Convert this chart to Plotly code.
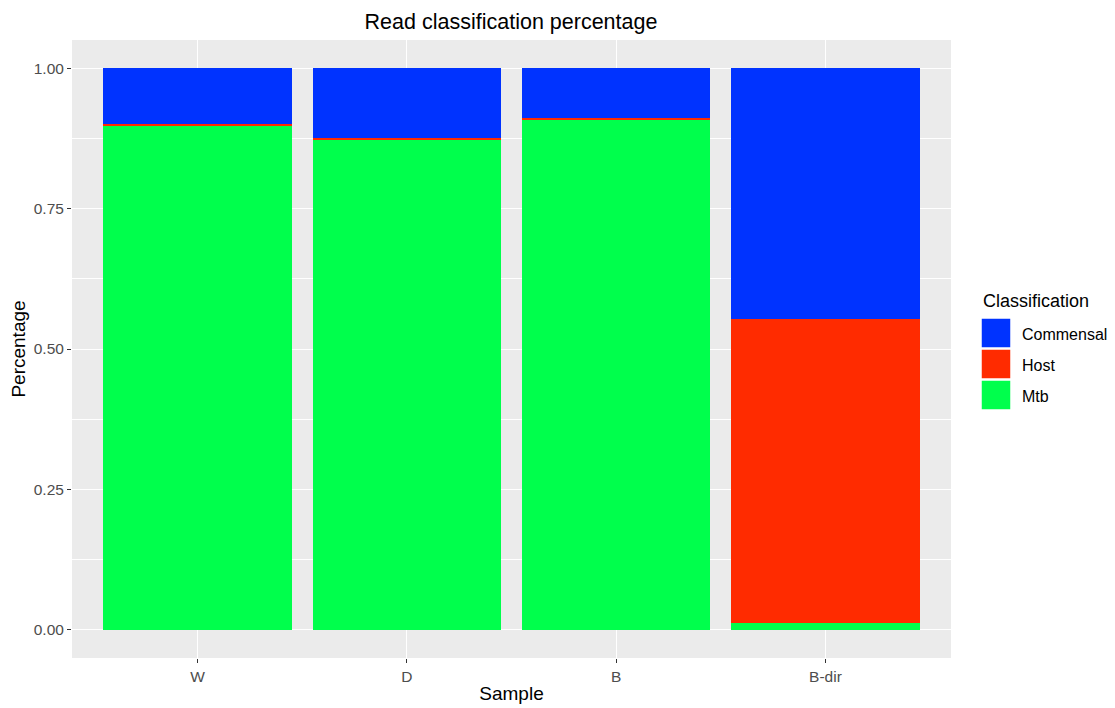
import plotly.graph_objects as go

samples = ["W", "D", "B", "B-dir"]
mtb = [0.897, 0.872, 0.909, 0.012]
host = [0.004, 0.003, 0.003, 0.541]
commensal = [0.099, 0.125, 0.088, 0.447]

series = [("Mtb", mtb), ("Host", host), ("Commensal", commensal)]
colors = {"Mtb": "#00FF4C", "Host": "#FF2B00", "Commensal": "#0033FF"}
legend_order = ["Commensal", "Host", "Mtb"]

W, H = 1115, 708
OFF = 8  # browser body margin
PL, PR, PT, PB = 72, 951, 40, 658  # plot area in page pixels

fig = go.Figure()
for name, vals in series:
    fig.add_trace(go.Bar(x=samples, y=vals, name=name, showlegend=False,
                         marker=dict(color=colors[name], line=dict(width=0)), width=0.9))

def px2x(px):
    return (px - PL) / (PR - PL)

def px2y(py):
    return (PB - py) / (PB - PT)

font = "Liberation Sans, Arial, sans-serif"
shapes = []
annotations = []
# Manual ggplot-style legend
annotations.append(dict(text="Classification", xref="paper", yref="paper", x=px2x(981), y=px2y(301),
                        xanchor="left", yanchor="middle", showarrow=False, font=dict(size=18, color="black")))
for i, name in enumerate(legend_order):
    top = 318 + i * 31
    shapes.append(dict(type="rect", xref="paper", yref="paper", x0=px2x(981), x1=px2x(1011),
                       y0=px2y(top), y1=px2y(top + 30), fillcolor=colors[name],
                       line=dict(color="white", width=1.5)))
    annotations.append(dict(text=name, xref="paper", yref="paper", x=px2x(1020), y=px2y(top + 16),
                            xanchor="left", yanchor="middle", showarrow=False,
                            font=dict(size=16, color="black")))

fig.update_layout(
    barmode="stack",
    width=W, height=H,
    margin=dict(l=PL - OFF, r=W + OFF - PR, t=PT - OFF, b=H + OFF - PB),
    paper_bgcolor="white",
    plot_bgcolor="#EBEBEB",
    showlegend=False,
    font=dict(family=font, color="black"),
    title=dict(text="Read classification percentage", xref="paper", x=px2x(511), xanchor="center",
               yref="container", y=1 - (21 - OFF) / H, yanchor="middle",
               font=dict(size=21.5, color="black")),
    shapes=shapes,
    annotations=annotations,
    xaxis=dict(range=[-0.6, 3.6], title=dict(text="Sample", font=dict(size=19), standoff=3),
               automargin=False,
               showgrid=True, gridcolor="white", gridwidth=1.2, ticks="outside", ticklen=4,
               tickcolor="#333333", tickfont=dict(size=15.5, color="#4D4D4D"), zeroline=False),
    yaxis=dict(range=[-0.05, 1.05], title=dict(text="Percentage", font=dict(size=19), standoff=4),
               automargin=False,
               tickvals=[0, 0.25, 0.5, 0.75, 1.0], ticktext=["0.00", "0.25", "0.50", "0.75", "1.00"],
               showgrid=True, gridcolor="white", gridwidth=1.2, ticks="outside", ticklen=4,
               tickcolor="#333333", tickfont=dict(size=15.5, color="#4D4D4D"), zeroline=False,
               minor=dict(tickvals=[0.125, 0.375, 0.625, 0.875], showgrid=True, gridcolor="white", gridwidth=0.5)),
)

fig.write_html("out.html")
